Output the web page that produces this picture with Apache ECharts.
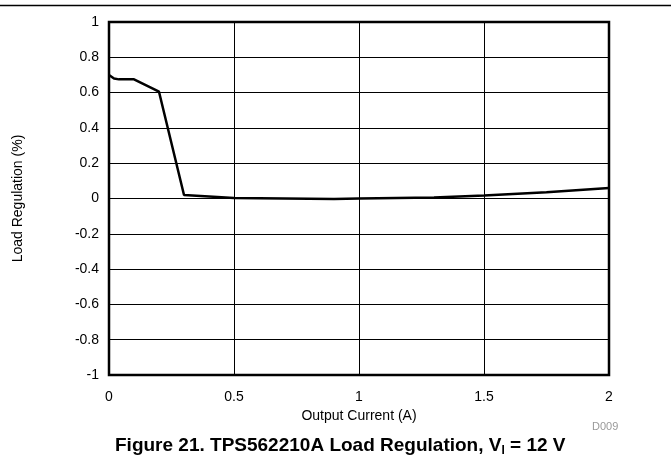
<!DOCTYPE html>
<html>
<head>
<meta charset="utf-8">
<script src="https://cdn.jsdelivr.net/npm/echarts@6/dist/echarts.min.js"></script>
<style>
  html, body { margin: 0; padding: 0; background: #fff; }
  #main { width: 671px; height: 465px; }
</style>
</head>
<body>
<div id="main"></div>
<script>
// output current (A) and load regulation (%)
var current = [0, 0.02, 0.04, 0.1, 0.2, 0.3, 0.5, 0.9, 1.0, 1.3, 1.5, 1.75, 2.0];
var regulation = [0.70, 0.68, 0.675, 0.675, 0.605, 0.02, 0.003, -0.003, 0, 0.005, 0.017, 0.035, 0.06];
var yTicks = [-1, -0.8, -0.6, -0.4, -0.2, 0, 0.2, 0.4, 0.6, 0.8, 1];

var myChart = echarts.init(document.getElementById('main'));

var pts = current.map(function (c, i) { return [c, regulation[i]]; });
var font = 'Liberation Sans, Arial, sans-serif';

var option = {
    backgroundColor: '#fff',
    animation: false,
    grid: {
        left: 109, right: 62, top: 22, bottom: 90,
        show: true, borderColor: '#000', borderWidth: 2.5
    },
    xAxis: {
        type: 'value', min: 0, max: 2, interval: 0.5,
        name: 'Output Current (A)', nameLocation: 'middle', nameGap: 22,
        nameTextStyle: { color: '#000', fontSize: 14, fontFamily: font },
        axisLine: { show: false }, axisTick: { show: false },
        axisLabel: { color: '#000', fontSize: 14, fontFamily: font, margin: 15 },
        splitLine: { lineStyle: { color: '#000', width: 1 } }
    },
    yAxis: {
        type: 'value', min: -1, max: 1, interval: 0.2,
        name: 'Load Regulation (%)', nameLocation: 'middle', nameGap: 84,
        nameTextStyle: { color: '#000', fontSize: 14, fontFamily: font },
        axisLine: { show: false }, axisTick: { show: false },
        axisLabel: {
            color: '#000', fontSize: 14, fontFamily: font, margin: 10,
            formatter: function (v) {
                var r = Math.round(v * 10) / 10;
                return yTicks.indexOf(r) >= 0 ? String(r) : '';
            }
        },
        splitLine: { lineStyle: { color: '#000', width: 1 } }
    },
    series: [{
        type: 'line', data: pts, showSymbol: false,
        lineStyle: { color: '#000', width: 2.5 }
    }],
    graphic: [
        { type: 'line', shape: { x1: 0, y1: 5.5, x2: 671, y2: 5.5 }, style: { stroke: '#000', lineWidth: 1.5 } },
        { type: 'text', left: 592, top: 421, style: { text: 'D009', fill: '#999', font: '11px ' + font } },
        {
            type: 'text', left: 115, top: 436,
            style: {
                text: '{b|Figure 21. TPS562210A Load Regulation, V}{s|I}{b| = 12 V}',
                rich: {
                    b: { fontSize: 19, fontWeight: 'bold', fontFamily: font, fill: '#000' },
                    s: { fontSize: 12, fontWeight: 'bold', fontFamily: font, fill: '#000', padding: [10, 0, 0, 0] }
                }
            }
        }
    ]
};

myChart.setOption(option);
</script>
</body>
</html>
